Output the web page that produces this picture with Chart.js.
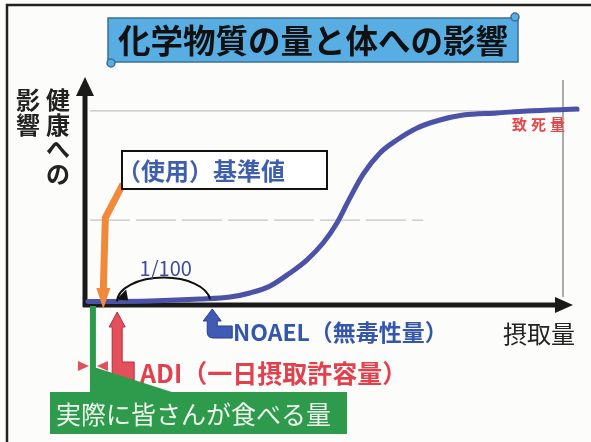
<!DOCTYPE html>
<html>
<head>
<meta charset="utf-8">
<script src="https://cdn.jsdelivr.net/npm/chart.js@4.4.1/dist/chart.umd.min.js"></script>
<style>
  html, body { margin: 0; padding: 0; background: #fcfcfa; }
  canvas { display: block; }
</style>
</head>
<body>
<canvas id="myChart" width="591" height="442"></canvas>
<script>
// datos (eje x: cantidad ingerida, eje y: efecto en la salud)
const doseX = [0.6, 13.1, 23.2, 29.3, 33.3, 37.4, 41.4, 44.8, 48.1, 50.9, 53.5, 56.2, 59.6, 63, 67.1, 71.7, 76.4, 83.2, 89.3, 99.4];
const effectY = [1.5, 1.8, 2.6, 3.5, 5.3, 8.4, 14.1, 19.8, 27.3, 36.1, 47.1, 57.7, 67, 72.7, 78, 81.5, 83.7, 84.6, 85.5, 86.3];

const lethalY = 85.5;       // linea gris superior (致死量)
const halfY = 37.4;         // linea discontinua media
const halfLineEndX = 68.3;

// posiciones clave en el eje x
const intakeX = 1.6;  // 実際に皆さんが食べる量
const kijunX = 3.7;   // (使用)基準値
const adiX = 6.5;     // ADI
const noaelX = 25.3;  // NOAEL

const titleText = "化学物質の量と体への影響";
const yLabelRight = ["健", "康", "へ", "の"];
const yLabelLeft = ["影", "響"];
const xLabel = "摂取量";
const FONT = '"Noto Sans CJK JP", "Noto Sans", sans-serif';

const ctx = document.getElementById("myChart");

function arrowL(c, tx, ty, hb, hw, sw, ft, fr, sb) {
  // flecha hacia arriba con pie hacia la derecha
  c.beginPath();
  c.moveTo(tx, ty);
  c.lineTo(tx + hw, hb);
  c.lineTo(tx + sw, hb);
  c.lineTo(tx + sw, ft);
  c.lineTo(fr, ft);
  c.lineTo(fr, sb);
  c.lineTo(tx - sw + 6, sb);
  c.quadraticCurveTo(tx - sw, sb, tx - sw, sb - 6);
  c.lineTo(tx - sw, hb);
  c.lineTo(tx - hw, hb);
  c.closePath();
  c.fill();
  c.stroke();
}

const fondo = {
  id: "fondo",
  beforeDraw(chart) {
    const c = chart.ctx;
    c.save();
    c.fillStyle = "#fcfcfa";
    c.fillRect(0, 0, chart.width, chart.height);

    // marco
    c.strokeStyle = "#222";
    c.lineWidth = 2.5;
    c.beginPath();
    c.moveTo(7, 442);
    c.lineTo(7, 5);
    c.lineTo(591, 5);
    c.stroke();
    c.strokeStyle = "#777";
    c.lineWidth = 1.2;
    c.beginPath();
    c.moveTo(563, 80);
    c.lineTo(563, 297);
    c.stroke();

    // titulo
    c.fillStyle = "#58ade2";
    c.strokeStyle = "#3b6f93";
    c.lineWidth = 1.5;
    c.fillRect(108, 18, 410, 44);
    c.strokeRect(108, 18, 410, 44);
    c.beginPath();
    c.arc(515, 17, 4, 0, Math.PI * 2);
    c.fill();
    c.stroke();
    c.beginPath();
    c.arc(111, 63, 4, 0, Math.PI * 2);
    c.fill();
    c.stroke();
    c.fillStyle = "#111";
    c.font = "bold 32.5px " + FONT;
    c.textAlign = "center";
    c.textBaseline = "middle";
    c.fillText(titleText, 313, 41);

    // etiqueta eje y (vertical)
    c.font = "bold 24px " + FONT;
    c.fillStyle = "#222";
    yLabelRight.forEach((ch, i) => c.fillText(ch, 58, 100 + i * 24.5));
    yLabelLeft.forEach((ch, i) => c.fillText(ch, 28, 100 + i * 24.5));
    c.restore();
  },
  beforeDatasetsDraw(chart) {
    const c = chart.ctx;
    const x0 = chart.scales.x.getPixelForValue(0);
    const y0 = chart.scales.y.getPixelForValue(0);
    c.save();
    c.strokeStyle = "#1a1a1a";
    c.fillStyle = "#1a1a1a";
    c.lineWidth = 5;
    c.beginPath();
    c.moveTo(x0, y0 + 2);
    c.lineTo(x0, 92);
    c.moveTo(x0 - 2, y0);
    c.lineTo(558, y0);
    c.stroke();
    // puntas de flecha
    c.beginPath();
    c.moveTo(x0, 77);
    c.lineTo(x0 + 9, 96);
    c.lineTo(x0 - 9, 96);
    c.closePath();
    c.fill();
    c.beginPath();
    c.moveTo(573, y0);
    c.lineTo(555, y0 - 8);
    c.lineTo(555, y0 + 8);
    c.closePath();
    c.fill();
    c.restore();
  },
  afterDatasetsDraw(chart) {
    const c = chart.ctx;
    const sx = chart.scales.x;
    const sy = chart.scales.y;
    const y0 = sy.getPixelForValue(0);
    const pKijun = sx.getPixelForValue(kijunX);
    const pAdi = sx.getPixelForValue(adiX);
    const pNoael = sx.getPixelForValue(noaelX);
    const pIntake = sx.getPixelForValue(intakeX);
    const base = sy.getPixelForValue(effectY[0]);
    c.save();

    // arco 1/100
    c.strokeStyle = "#111";
    c.lineWidth = 2;
    c.beginPath();
    c.ellipse((pAdi + pNoael) / 2, base, (pNoael - pAdi) / 2, 24, 0, Math.PI, Math.PI * 1.97);
    c.stroke();
    c.fillStyle = "#111";
    c.beginPath();
    c.moveTo(pAdi - 1, base - 2);
    c.lineTo(pAdi + 9, base - 12);
    c.lineTo(pAdi + 11, base - 1);
    c.closePath();
    c.fill();
    c.fillStyle = "#3b4c9c";
    c.font = "20px " + FONT;
    c.textAlign = "center";
    c.textBaseline = "middle";
    c.fillText("1/100", (pAdi + pNoael) / 2 + 2, 268);

    // caja (使用)基準値 y flecha naranja
    c.strokeStyle = "#f08a3a";
    c.lineWidth = 7;
    c.lineJoin = "miter";
    c.beginPath();
    c.moveTo(123, 184);
    c.lineTo(pKijun + 2, 218);
    c.lineTo(pKijun, 290);
    c.stroke();
    c.fillStyle = "#f08a3a";
    c.beginPath();
    c.moveTo(pKijun, 309);
    c.lineTo(pKijun - 7, 288);
    c.lineTo(pKijun + 7, 288);
    c.closePath();
    c.fill();
    c.fillStyle = "#fff";
    c.strokeStyle = "#111";
    c.lineWidth = 2;
    c.fillRect(122, 151, 205, 38);
    c.strokeRect(122, 151, 205, 38);
    c.fillStyle = "#3d5fae";
    c.font = "bold 24px " + FONT;
    c.textAlign = "left";
    c.fillText("（使用）基準値", 117, 171);

    // flecha ADI (roja)
    c.fillStyle = "#e3505c";
    c.strokeStyle = "#b03040";
    c.lineWidth = 1;
    arrowL(c, pAdi, 312, 327, 8, 5, 362, pAdi + 17, 380);
    c.fillStyle = "#e3404e";
    c.font = "bold 25px " + FONT;
    c.textAlign = "left";
    c.fillText("ADI（一日摂取許容量）", 140, 373);

    // flecha NOAEL (azul)
    c.fillStyle = "#3f5bb5";
    c.strokeStyle = "#2a3f8a";
    arrowL(c, pNoael + 2, 309, 321, 9, 5, 326, pNoael + 22, 338);
    c.fillStyle = "#3556ad";
    c.font = "bold 23px " + FONT;
    c.fillText("NOAEL（無毒性量）", 233, 332);

    // 摂取量
    c.fillStyle = "#222";
    c.font = "24px " + FONT;
    c.fillText(xLabel, 503, 334);

    // 致死量
    c.fillStyle = "#e5484a";
    c.font = "bold 15px " + FONT;
    c.letterSpacing = "4px";
    c.fillText("致死量", 512, 124);
    c.letterSpacing = "0px";

    // marcas rojas ►◄
    c.fillStyle = "#e0505a";
    c.beginPath();
    c.moveTo(pIntake - 4, 366);
    c.lineTo(pIntake - 15, 361);
    c.lineTo(pIntake - 15, 371);
    c.closePath();
    c.fill();
    c.beginPath();
    c.moveTo(pIntake + 4, 366);
    c.lineTo(pIntake + 15, 361);
    c.lineTo(pIntake + 15, 371);
    c.closePath();
    c.fill();

    // llamada verde
    c.fillStyle = "#2e9a4b";
    c.fillRect(pIntake - 3, y0 + 1, 6, 370 - y0);
    c.beginPath();
    c.moveTo(pIntake - 3, 368);
    c.lineTo(pIntake + 4, 368);
    c.lineTo(178, 394);
    c.lineTo(pIntake - 3, 394);
    c.closePath();
    c.fill();
    c.fillRect(50, 392, 297, 42);
    c.fillStyle = "#eef6ee";
    c.font = "25px " + FONT;
    c.fillText("実際に皆さんが食べる量", 56, 414);

    c.restore();
  },
};

new Chart(ctx, {
  type: "scatter",
  data: {
    datasets: [
      {
        data: doseX.map((x, i) => ({ x: x, y: effectY[i] })),
        showLine: true,
        borderColor: "#4b52a8",
        borderWidth: 5,
        pointRadius: 0,
        cubicInterpolationMode: "monotone",
        borderCapStyle: "round",
        borderJoinStyle: "round",
      },
      {
        data: [{ x: 1, y: lethalY }, { x: 100, y: lethalY }],
        showLine: true,
        borderColor: "#b5b5b5",
        borderWidth: 1,
        pointRadius: 0,
      },
      {
        data: [{ x: 1, y: halfY }, { x: halfLineEndX, y: halfY }],
        showLine: true,
        borderColor: "#c4c4c4",
        borderWidth: 1.2,
        borderDash: [40, 6],
        pointRadius: 0,
      },
    ],
  },
  options: {
    responsive: false,
    animation: false,
    layout: { padding: { left: 85, right: 11, top: 78, bottom: 137 } },
    scales: {
      x: { type: "linear", min: 0, max: 100, display: false },
      y: { min: 0, max: 100, display: false },
    },
    plugins: {
      legend: { display: false },
      tooltip: { enabled: false },
    },
  },
  plugins: [fondo],
});
</script>
</body>
</html>
